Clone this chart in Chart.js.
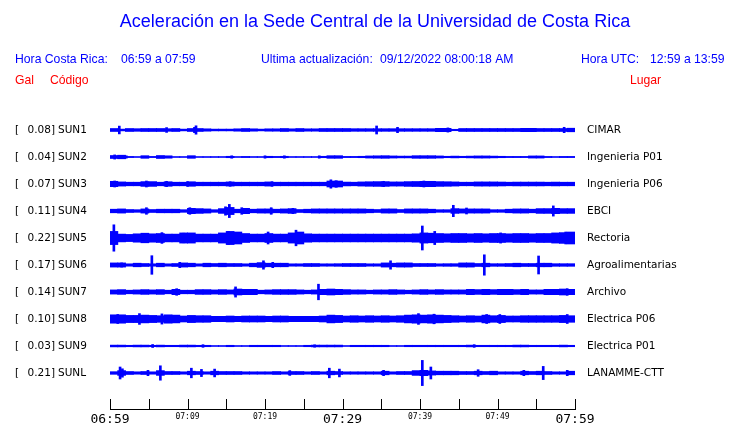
<!DOCTYPE html>
<html>
<head>
<meta charset="utf-8">
<script src="https://cdn.jsdelivr.net/npm/chart.js@4/dist/chart.umd.min.js"></script>
<style>
  html, body { margin: 0; padding: 0; background: #fff; }
  #wrap { width: 740px; height: 423px; }
</style>
</head>
<body>
<div id="wrap"><canvas id="sismo" width="740" height="423"></canvas></div>
<script>
// estaciones
const codes = ['SUN1', 'SUN2', 'SUN3', 'SUN4', 'SUN5', 'SUN6', 'SUN7', 'SUN8', 'SUN9', 'SUNL'];
const peaks = [0.08, 0.04, 0.07, 0.11, 0.22, 0.17, 0.14, 0.10, 0.03, 0.21];
const places = ['CIMAR', 'Ingenieria P01', 'Ingenieria P06', 'EBCI', 'Rectoria', 'Agroalimentarias',
  'Archivo', 'Electrica P06', 'Electrica P01', 'LANAMME-CTT'];

// amplitud por minuto (Gal), 06:59 -> 07:59
const sun1Band = [0.025, 0.015, 0.025, 0.022, 0.025, 0.025, 0.025, 0.022, 0.025, 0.015,
  0.025, 0.025, 0.02, 0.015, 0.015, 0.015, 0.02, 0.025, 0.02, 0.015,
  0.02, 0.02, 0.025, 0.02, 0.025, 0.02, 0.02, 0.025, 0.025, 0.025,
  0.025, 0.022, 0.022, 0.022, 0.022, 0.022, 0.022, 0.022, 0.022, 0.022,
  0.022, 0.022, 0.028, 0.028, 0.012, 0.025, 0.025, 0.025, 0.025, 0.025,
  0.025, 0.025, 0.025, 0.028, 0.028, 0.025, 0.025, 0.025, 0.025, 0.03];
const sun2Band = [0.025, 0.03, 0.01, 0.008, 0.022, 0.01, 0.025, 0.02, 0.008, 0.008,
  0.022, 0.008, 0.008, 0.008, 0.008, 0.012, 0.008, 0.01, 0.008, 0.008,
  0.012, 0.01, 0.012, 0.008, 0.008, 0.008, 0.008, 0.012, 0.022, 0.022,
  0.01, 0.01, 0.012, 0.018, 0.02, 0.022, 0.018, 0.015, 0.015, 0.022,
  0.022, 0.022, 0.018, 0.012, 0.015, 0.012, 0.015, 0.018, 0.018, 0.015,
  0.012, 0.01, 0.01, 0.01, 0.018, 0.018, 0.01, 0.008, 0.01, 0.01];
const sun3Band = [0.045, 0.035, 0.03, 0.03, 0.04, 0.04, 0.03, 0.038, 0.03, 0.03,
  0.038, 0.03, 0.03, 0.03, 0.03, 0.035, 0.03, 0.03, 0.03, 0.03,
  0.035, 0.03, 0.03, 0.03, 0.03, 0.03, 0.03, 0.03, 0.05, 0.05,
  0.032, 0.03, 0.035, 0.038, 0.04, 0.04, 0.035, 0.035, 0.04, 0.042,
  0.045, 0.045, 0.04, 0.038, 0.035, 0.03, 0.03, 0.035, 0.035, 0.035,
  0.033, 0.03, 0.032, 0.032, 0.032, 0.032, 0.03, 0.032, 0.03, 0.03];
const sun4Band = [0.03, 0.035, 0.025, 0.022, 0.035, 0.025, 0.03, 0.03, 0.03, 0.022,
  0.045, 0.04, 0.035, 0.022, 0.04, 0.06, 0.03, 0.045, 0.03, 0.035,
  0.035, 0.03, 0.035, 0.04, 0.025, 0.03, 0.035, 0.035, 0.035, 0.035,
  0.035, 0.035, 0.035, 0.03, 0.025, 0.035, 0.035, 0.025, 0.035, 0.035,
  0.035, 0.03, 0.022, 0.022, 0.04, 0.035, 0.035, 0.035, 0.035, 0.022,
  0.022, 0.03, 0.035, 0.035, 0.03, 0.04, 0.04, 0.045, 0.04, 0.04];
const sun5Band = [0.11, 0.065, 0.06, 0.07, 0.08, 0.07, 0.075, 0.065, 0.065, 0.085,
  0.085, 0.065, 0.065, 0.065, 0.085, 0.11, 0.1, 0.075, 0.065, 0.065,
  0.075, 0.065, 0.065, 0.085, 0.1, 0.07, 0.065, 0.065, 0.065, 0.065,
  0.065, 0.065, 0.065, 0.065, 0.065, 0.065, 0.065, 0.065, 0.065, 0.07,
  0.085, 0.08, 0.075, 0.07, 0.075, 0.075, 0.07, 0.075, 0.07, 0.075,
  0.075, 0.07, 0.075, 0.075, 0.07, 0.075, 0.075, 0.085, 0.09, 0.1];
const sun6Band = [0.035, 0.035, 0.02, 0.03, 0.025, 0.02, 0.03, 0.02, 0.025, 0.035,
  0.03, 0.02, 0.03, 0.025, 0.03, 0.025, 0.025, 0.02, 0.03, 0.04,
  0.03, 0.03, 0.03, 0.02, 0.02, 0.025, 0.025, 0.02, 0.02, 0.022,
  0.025, 0.025, 0.025, 0.02, 0.02, 0.035, 0.03, 0.035, 0.035, 0.025,
  0.025, 0.025, 0.02, 0.022, 0.022, 0.035, 0.035, 0.025, 0.03, 0.022,
  0.022, 0.025, 0.03, 0.025, 0.025, 0.03, 0.03, 0.022, 0.022, 0.022];
const sun7Band = [0.035, 0.04, 0.03, 0.035, 0.04, 0.035, 0.04, 0.03, 0.045, 0.03,
  0.03, 0.04, 0.04, 0.035, 0.04, 0.035, 0.05, 0.045, 0.045, 0.03,
  0.035, 0.04, 0.04, 0.04, 0.035, 0.03, 0.035, 0.045, 0.05, 0.045,
  0.04, 0.035, 0.035, 0.03, 0.035, 0.035, 0.04, 0.035, 0.03, 0.035,
  0.04, 0.035, 0.04, 0.035, 0.035, 0.035, 0.045, 0.04, 0.045, 0.04,
  0.045, 0.045, 0.04, 0.045, 0.035, 0.035, 0.045, 0.045, 0.05, 0.045];
const sun8Band = [0.07, 0.07, 0.06, 0.06, 0.065, 0.06, 0.055, 0.07, 0.065, 0.05,
  0.06, 0.055, 0.055, 0.045, 0.045, 0.05, 0.045, 0.05, 0.05, 0.05,
  0.045, 0.05, 0.05, 0.045, 0.045, 0.045, 0.045, 0.05, 0.065, 0.06,
  0.05, 0.055, 0.05, 0.055, 0.05, 0.055, 0.05, 0.055, 0.065, 0.07,
  0.065, 0.07, 0.065, 0.06, 0.055, 0.05, 0.055, 0.05, 0.065, 0.055,
  0.06, 0.05, 0.05, 0.055, 0.055, 0.055, 0.055, 0.055, 0.06, 0.055];
const sun9Band = [0.015, 0.015, 0.012, 0.015, 0.015, 0.012, 0.015, 0.012, 0.012, 0.015,
  0.015, 0.012, 0.012, 0.008, 0.008, 0.012, 0.008, 0.008, 0.012, 0.012,
  0.012, 0.012, 0.008, 0.008, 0.008, 0.012, 0.015, 0.015, 0.015, 0.015,
  0.008, 0.012, 0.012, 0.012, 0.012, 0.012, 0.008, 0.008, 0.012, 0.012,
  0.012, 0.012, 0.012, 0.012, 0.012, 0.012, 0.015, 0.012, 0.012, 0.012,
  0.012, 0.012, 0.015, 0.015, 0.012, 0.012, 0.012, 0.012, 0.015, 0.012];
const sunlBand = [0.022, 0.04, 0.025, 0.02, 0.025, 0.02, 0.04, 0.025, 0.025, 0.02,
  0.03, 0.025, 0.02, 0.03, 0.025, 0.025, 0.025, 0.02, 0.02, 0.02,
  0.02, 0.025, 0.02, 0.025, 0.025, 0.02, 0.025, 0.02, 0.03, 0.025,
  0.02, 0.02, 0.02, 0.02, 0.02, 0.03, 0.02, 0.025, 0.025, 0.04,
  0.045, 0.035, 0.03, 0.03, 0.03, 0.025, 0.025, 0.03, 0.025, 0.03,
  0.02, 0.02, 0.02, 0.03, 0.025, 0.03, 0.025, 0.02, 0.02, 0.03];

// picos [minuto, Gal]
const sun1Spikes = [[1.2, 0.065], [7.3, 0.04], [10.9, 0.045], [11.1, 0.07], [34.4, 0.067], [37.1, 0.045], [43.6, 0.035], [58.6, 0.045]];
const sun2Spikes = [[0.6, 0.035], [2.1, 0.02], [15.7, 0.02], [20, 0.02], [22.5, 0.02], [27, 0.02]];
const sun3Spikes = [[0.6, 0.05], [4.7, 0.05], [7.3, 0.045], [10, 0.04], [15.5, 0.038], [20.9, 0.038], [28.5, 0.07], [29.2, 0.055], [35.3, 0.045], [40.5, 0.05]];
const sun4Spikes = [[4.7, 0.055], [10.3, 0.055], [14.9, 0.07], [15.4, 0.11], [17, 0.055], [20.8, 0.055], [23.6, 0.045], [44.3, 0.095], [46, 0.05], [57.2, 0.085]];
const sun5Spikes = [[0.5, 0.22], [6.7, 0.09], [9.5, 0.08], [15.3, 0.11], [20.4, 0.1], [24, 0.13], [40.3, 0.2], [41.9, 0.11], [50.4, 0.085], [58.8, 0.1]];
const sun6Spikes = [[1.5, 0.035], [5.4, 0.155], [9, 0.045], [19.8, 0.07], [21, 0.045], [36.2, 0.07], [48.3, 0.17], [55.3, 0.15]];
const sun7Spikes = [[8.6, 0.055], [16.2, 0.085], [26.9, 0.13], [59, 0.055]];
const sun8Spikes = [[1, 0.075], [3.8, 0.09], [6.7, 0.085], [39.8, 0.09], [41.8, 0.08], [48.6, 0.075], [50.3, 0.075], [59, 0.075]];
const sun9Spikes = [[5.5, 0.025], [12, 0.022], [26.4, 0.02], [47, 0.022]];
const sunlSpikes = [[1.3, 0.1], [1.6, 0.07], [4.9, 0.045], [6.5, 0.12], [10.5, 0.08], [11.8, 0.06], [13.5, 0.065], [23.2, 0.04],
  [28.3, 0.08], [29.6, 0.065], [35.3, 0.045], [40.3, 0.21], [41.4, 0.1], [47.5, 0.055], [53.4, 0.045], [55.9, 0.11], [59, 0.045]];

const bands = [sun1Band, sun2Band, sun3Band, sun4Band, sun5Band, sun6Band, sun7Band, sun8Band, sun9Band, sunlBand];
const spikes = [sun1Spikes, sun2Spikes, sun3Spikes, sun4Spikes, sun5Spikes, sun6Spikes, sun7Spikes, sun8Spikes, sun9Spikes, sunlSpikes];

const xTicks = [0, 5, 10, 15, 20, 25, 30, 35, 40, 45, 50, 55, 60]; // minutos desde 06:59
const ROW = 0.45; // separacion entre trazas, en Gal
const BLUE = '#0000ff';

const hhmm = (v) => {
  const t = 6 * 60 + 59 + v;
  return String(Math.floor(t / 60)).padStart(2, '0') + ':' + String(t % 60).padStart(2, '0');
};

const datasets = [];
bands.forEach((band, i) => {
  const off = -i * ROW;
  datasets.push({
    data: band.map((a, m) => ({ x: m + 0.5, y: [off - a, off + a] })),
    backgroundColor: BLUE,
    borderWidth: 0,
    barThickness: 8,
    grouped: false
  });
  datasets.push({
    data: spikes[i].map(([m, a]) => ({ x: m, y: [off - a, off + a] })),
    backgroundColor: BLUE,
    borderWidth: 0,
    barThickness: 2,
    grouped: false
  });
});

// textos de encabezado, etiquetas de estacion y marcas del eje
const textos = {
  id: 'textos',
  afterDraw(chart) {
    const ctx = chart.ctx;
    const y = chart.scales.y;
    const x = chart.scales.x;
    ctx.save();
    ctx.textBaseline = 'middle';

    ctx.fillStyle = BLUE;
    ctx.font = '18px "Liberation Sans"';
    ctx.textAlign = 'center';
    ctx.fillText('Aceleración en la Sede Central de la Universidad de Costa Rica', 375, 22);

    ctx.font = '12.2px "Liberation Sans"';
    ctx.textAlign = 'left';
    ctx.fillText('Hora Costa Rica:', 15, 60);
    ctx.fillText('06:59 a 07:59', 121, 60);
    ctx.fillText('Ultima actualización:', 261, 60);
    ctx.fillText('09/12/2022 08:00:18 AM', 380, 60);
    ctx.fillText('Hora UTC:', 581, 60);
    ctx.fillText('12:59 a 13:59', 650, 60);

    ctx.fillStyle = '#ff0000';
    ctx.fillText('Gal', 15, 81);
    ctx.fillText('Código', 50, 81);
    ctx.fillText('Lugar', 630, 81);

    ctx.fillStyle = '#000';
    ctx.font = '10.5px "DejaVu Sans"';
    codes.forEach((c, i) => {
      const py = y.getPixelForValue(-i * ROW) + 0.5;
      ctx.textAlign = 'left';
      ctx.fillText('[', 15, py);
      ctx.textAlign = 'right';
      ctx.fillText(peaks[i].toFixed(2) + ']', 55, py);
      ctx.textAlign = 'left';
      ctx.fillText(c, 58, py);
      ctx.fillText(places[i], 587, py);
    });

    ctx.strokeStyle = '#000';
    ctx.lineWidth = 1;
    ctx.beginPath();
    xTicks.forEach((v) => {
      const px = Math.round(x.getPixelForValue(v)) + 0.5;
      ctx.moveTo(px, chart.chartArea.bottom);
      ctx.lineTo(px, chart.chartArea.bottom - 10);
    });
    ctx.stroke();
    ctx.restore();
  }
};

new Chart(document.getElementById('sismo'), {
  type: 'bar',
  data: { datasets },
  options: {
    responsive: false,
    animation: false,
    layout: { padding: { top: 116, left: 110, right: 165, bottom: 0 } },
    plugins: { legend: { display: false }, tooltip: { enabled: false } },
    scales: {
      x: {
        type: 'linear',
        min: 0,
        max: 60,
        offset: false,
        afterFit: (s) => { s.height = 14; },
        afterBuildTicks: (s) => { s.ticks = xTicks.map((v) => ({ value: v })); },
        grid: { display: false, drawTicks: false },
        border: { display: true, color: '#000', width: 1 },
        ticks: {
          autoSkip: false,
          maxRotation: 0,
          padding: 3,
          color: '#000',
          callback: (v) => (v % 10 === 0 ? hhmm(v) : ''),
          font: (c) => (c.tick && c.tick.value % 30 === 0
            ? { family: 'DejaVu Sans Mono', size: 13 }
            : { family: 'DejaVu Sans Mono', size: 8 })
        }
      },
      y: {
        type: 'linear',
        display: false,
        min: -4.65,
        max: 0.2333
      }
    }
  },
  plugins: [textos]
});
</script>
</body>
</html>
